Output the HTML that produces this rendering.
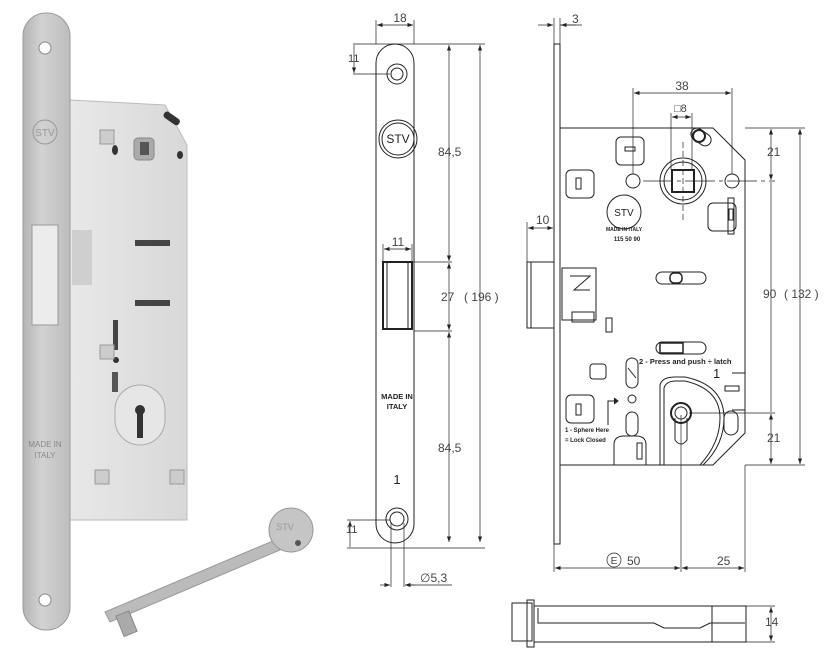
<!DOCTYPE html>
<html><head><meta charset="utf-8"><style>
html,body{margin:0;padding:0;background:#fff;}
svg{display:block;font-family:"Liberation Sans",sans-serif;}
</style></head><body>
<svg width="838" height="663" viewBox="0 0 838 663" xmlns="http://www.w3.org/2000/svg">
<defs>
<linearGradient id="fp" x1="0" x2="1"><stop offset="0" stop-color="#b4b4b4"/><stop offset="0.4" stop-color="#d2d2d2"/><stop offset="1" stop-color="#bdbdbd"/></linearGradient>
<linearGradient id="bd" x1="0" x2="1"><stop offset="0" stop-color="#e8e8e8"/><stop offset="1" stop-color="#d8d8d8"/></linearGradient>
<marker id="a" markerWidth="8" markerHeight="6" refX="8" refY="3" orient="auto-start-reverse"><path d="M0,0 L8,3 L0,6 z" fill="#222"/></marker>
</defs>
<!-- PHOTO -->
<path d="M70,100 L165,105 L187,145 L187,520 L70,520 z" fill="url(#bd)" stroke="#bbb"/>
<rect x="23" y="13" width="47" height="617" rx="23" fill="url(#fp)" stroke="#9a9a9a"/>
<circle cx="45" cy="48" r="6" fill="#fff" stroke="#888"/>
<circle cx="45" cy="600" r="6" fill="#fff" stroke="#888"/>
<circle cx="45" cy="132" r="12" fill="none" stroke="#999"/>
<text x="45" y="136" font-size="10" fill="#999" text-anchor="middle">STV</text>
<rect x="32" y="225" width="26" height="100" fill="#ececec" stroke="#999"/>
<rect x="72" y="230" width="20" height="55" fill="#cfcfcf"/>
<rect x="134" y="138" width="20" height="22" rx="4" fill="#aaa" stroke="#888"/>
<rect x="140" y="142" width="9" height="13" fill="#555"/>
<ellipse cx="115" cy="150" rx="3" ry="5" fill="#333"/><ellipse cx="180" cy="155" rx="3" ry="4" fill="#333"/>
<rect x="163" y="115" width="18" height="7" rx="3" fill="#333" transform="rotate(35 172 118)"/>
<rect x="135" y="240" width="35" height="6" fill="#444"/><rect x="135" y="300" width="35" height="6" fill="#444"/>
<rect x="115" y="385" width="50" height="60" rx="25" fill="#e6e6e6" stroke="#aaa"/>
<circle cx="140" cy="410" r="5" fill="#333"/><rect x="137" y="410" width="6" height="28" fill="#333"/>
<rect x="113" y="320" width="5" height="30" fill="#444"/><circle cx="116" cy="360" r="3" fill="#333"/><rect x="112" y="372" width="6" height="20" fill="#555"/>
<rect x="100" y="130" width="14" height="14" fill="#ccc" stroke="#999"/><rect x="100" y="345" width="14" height="14" fill="#ccc" stroke="#999"/><rect x="95" y="470" width="14" height="14" fill="#ccc" stroke="#999"/><rect x="170" y="470" width="14" height="14" fill="#ccc" stroke="#999"/>
<text x="45" y="447" font-size="8" fill="#888" text-anchor="middle">MADE IN</text><text x="45" y="458" font-size="8" fill="#888" text-anchor="middle">ITALY</text>
<path d="M105,612 L275,540 L280,550 L110,622 z" fill="#bbb" stroke="#999"/>
<rect x="118" y="613" width="14" height="22" fill="#aaa" stroke="#888" transform="rotate(-22 125 620)"/>
<circle cx="291" cy="530" r="22" fill="#c5c5c5" stroke="#999"/>
<circle cx="298" cy="543" r="3" fill="#555"/>
<text x="285" y="530" font-size="9" fill="#999" text-anchor="middle">STV</text>

<!-- FRONT FACEPLATE DRAWING -->
<g stroke="#222" fill="none" stroke-width="1">
<rect x="376" y="44" width="38" height="499" rx="19"/>
<circle cx="397" cy="74" r="10"/><circle cx="397" cy="74" r="6"/>
<circle cx="397" cy="519" r="11"/><circle cx="397" cy="519" r="7"/>
<circle cx="398" cy="139" r="19"/><circle cx="398" cy="139" r="16"/>
<rect x="383" y="262" width="29" height="67" stroke-width="2"/><line x1="387" y1="262" x2="387" y2="329"/><line x1="408" y1="262" x2="408" y2="329"/>
<g stroke-width="0.7">
<line x1="376" y1="20" x2="376" y2="44"/><line x1="414" y1="20" x2="414" y2="44"/>
<line x1="377" y1="25" x2="413" y2="25" marker-start="url(#a)" marker-end="url(#a)"/>
<line x1="353" y1="44" x2="485" y2="44"/><line x1="353" y1="74" x2="390" y2="74"/>
<line x1="354" y1="45" x2="354" y2="73" marker-end="url(#a)"/>
<line x1="383" y1="244" x2="383" y2="262"/><line x1="412" y1="244" x2="412" y2="262"/>
<line x1="384" y1="249" x2="411" y2="249" marker-start="url(#a)" marker-end="url(#a)"/>
<line x1="412" y1="262" x2="452" y2="262"/><line x1="414" y1="331" x2="452" y2="331"/>
<line x1="449" y1="45" x2="449" y2="261" marker-start="url(#a)" marker-end="url(#a)"/>
<line x1="449" y1="263" x2="449" y2="330" marker-start="url(#a)" marker-end="url(#a)"/>
<line x1="449" y1="332" x2="449" y2="542" marker-start="url(#a)" marker-end="url(#a)"/>
<line x1="480" y1="45" x2="480" y2="542" marker-start="url(#a)" marker-end="url(#a)"/>
<line x1="347" y1="548" x2="485" y2="548"/><line x1="347" y1="520" x2="390" y2="520"/>
<line x1="350" y1="521" x2="350" y2="547" marker-start="url(#a)"/>
<line x1="391" y1="523" x2="391" y2="587"/><line x1="404" y1="523" x2="404" y2="587"/>
<line x1="380" y1="585" x2="390" y2="585" marker-end="url(#a)"/><line x1="415" y1="585" x2="405" y2="585" marker-end="url(#a)"/><line x1="405" y1="585" x2="452" y2="585"/>
</g>
</g>
<g fill="#444" font-size="12">
<text x="400" y="22" text-anchor="middle">18</text>
<text x="348" y="62" font-size="11">11</text><text x="346" y="533" font-size="11">11</text>
<text x="398" y="246" text-anchor="middle">11</text>
<text x="438" y="156">84,5</text><text x="438" y="452">84,5</text>
<text x="441" y="301">27</text><text x="464" y="301">( 196 )</text>
<text x="420" y="582">∅5,3</text>
<text x="398" y="143" text-anchor="middle" font-size="12" fill="#222">STV</text>
<text x="397" y="399" text-anchor="middle" font-size="7.5" font-weight="bold" fill="#222">MADE IN</text>
<text x="397" y="409" text-anchor="middle" font-size="7.5" font-weight="bold" fill="#222">ITALY</text>
<text x="397" y="484" text-anchor="middle" font-size="13" fill="#222">1</text>
</g>

<!-- SIDE DRAWING -->
<g stroke="#222" fill="none" stroke-width="1">
<rect x="554" y="44" width="6" height="500"/>
<path d="M560,128 L713,128 L745,160 L745,433 L713,465 L560,465"/>
<rect x="527" y="262" width="27" height="66"/><line x1="531" y1="262" x2="531" y2="328"/>
<rect x="616" y="137" width="28" height="28" rx="5"/><rect x="625" y="147" width="10" height="4"/>
<rect x="566" y="170" width="28" height="28" rx="5"/><rect x="576" y="178" width="5" height="11"/>
<rect x="708" y="203" width="28" height="28" rx="5"/><rect x="728" y="198" width="6" height="36"/><rect x="729" y="209" width="4" height="11"/>
<circle cx="683" cy="181" r="23"/><circle cx="683" cy="181" r="19"/><rect x="672" y="170" width="22" height="22" stroke-width="2"/>
<circle cx="633" cy="181" r="7"/><circle cx="732" cy="181" r="7"/>
<rect x="690" y="131" width="22" height="12" rx="6" transform="rotate(35 701 137)"/>
<circle cx="699" cy="136" r="6" stroke-width="2"/>
<circle cx="624" cy="212" r="17"/>
<rect x="656" y="272" width="50" height="12" rx="6"/><rect x="670" y="273" width="12" height="10" rx="4" stroke-width="1.5"/>
<rect x="656" y="342" width="50" height="12" rx="6"/><rect x="660" y="343" width="23" height="10" stroke-width="1.5"/>
<rect x="562" y="268" width="34" height="52"/><path d="M570,276 L590,276 L574,290 L590,290"/>
<rect x="572" y="312" width="22" height="10"/><rect x="606" y="318" width="6" height="14"/>
<rect x="590" y="364" width="16" height="15" rx="3"/>
<rect x="626" y="358" width="12" height="30" rx="6"/><line x1="628" y1="368" x2="636" y2="378"/>
<circle cx="632" cy="399" r="4"/><rect x="626" y="412" width="12" height="24" rx="6"/>
<rect x="566" y="395" width="28" height="28" rx="5"/><rect x="576" y="404" width="5" height="11"/>
<path d="M608,425 L608,401 L614,401"/><path d="M614,398 L618,401 L614,404" fill="#222"/>
<path d="M614,465 L614,445 Q614,436 624,436 L636,436 Q646,436 646,445 L646,465"/><rect x="637" y="443" width="5" height="16"/>
<path d="M660,465 L660,385 Q662,377 675,377 L685,377 Q724,385 724,418 Q724,445 703,465"/>
<path d="M664,465 L664,388 Q666,381 676,381 L685,381 Q720,389 720,418 Q720,443 700,465"/>
<path d="M732,373 L745,373 L745,410 L732,410"/><rect x="725" y="386" width="14" height="5"/><rect x="724" y="411" width="14" height="24" rx="7"/>
<circle cx="681" cy="413" r="10" stroke-width="2"/><circle cx="681" cy="413" r="6"/>
<path d="M675,418 L675,440 Q681,448 687,440 L687,418"/>
<rect x="512" y="603" width="20" height="38"/><rect x="527" y="600" width="7" height="47"/>
<rect x="534" y="606" width="212" height="36"/><line x1="712" y1="606" x2="712" y2="642"/>
<path d="M538,608 L538,623 L654,623 L664,628 L700,628 L710,623 L745,623"/>
</g>
<g stroke="#222" fill="none" stroke-width="0.7">
<line x1="554" y1="18" x2="554" y2="44"/><line x1="560" y1="18" x2="560" y2="44"/>
<line x1="538" y1="25" x2="553" y2="25" marker-end="url(#a)"/><line x1="576" y1="25" x2="561" y2="25" marker-end="url(#a)"/><line x1="560" y1="25" x2="582" y2="25"/>
<line x1="527" y1="222" x2="527" y2="262"/>
<line x1="528" y1="228" x2="553" y2="228" marker-start="url(#a)" marker-end="url(#a)"/>
<line x1="633" y1="88" x2="633" y2="174"/><line x1="732" y1="88" x2="732" y2="174"/>
<line x1="634" y1="93" x2="731" y2="93" marker-start="url(#a)" marker-end="url(#a)"/>
<line x1="671" y1="113" x2="671" y2="170"/><line x1="692" y1="113" x2="692" y2="170"/>
<line x1="672" y1="117" x2="691" y2="117" marker-start="url(#a)" marker-end="url(#a)"/>
<line x1="683" y1="142" x2="683" y2="220" stroke-dasharray="6,3"/>
<line x1="643" y1="181" x2="775" y2="181" stroke-dasharray="30,4,4,4"/>
<line x1="745" y1="128" x2="805" y2="128"/><line x1="745" y1="465" x2="805" y2="465"/>
<line x1="771" y1="129" x2="771" y2="180" marker-start="url(#a)" marker-end="url(#a)"/>
<line x1="771" y1="182" x2="771" y2="412" />
<line x1="771" y1="414" x2="771" y2="464" marker-start="url(#a)" marker-end="url(#a)"/>
<line x1="800" y1="129" x2="800" y2="464" marker-start="url(#a)" marker-end="url(#a)"/>
<line x1="689" y1="413" x2="775" y2="413"/>
<line x1="681" y1="415" x2="681" y2="572"/>
<line x1="554" y1="544" x2="554" y2="572"/><line x1="745" y1="465" x2="745" y2="572"/>
<line x1="555" y1="568" x2="680" y2="568" marker-start="url(#a)" marker-end="url(#a)"/>
<line x1="682" y1="568" x2="744" y2="568" marker-start="url(#a)" marker-end="url(#a)"/>
<line x1="745" y1="606" x2="775" y2="606"/><line x1="745" y1="642" x2="775" y2="642"/>
<line x1="771" y1="607" x2="771" y2="641" marker-start="url(#a)" marker-end="url(#a)"/>
<circle cx="614" cy="560" r="7"/>
</g>
<g fill="#444" font-size="12">
<text x="572" y="23">3</text>
<text x="536" y="224">10</text>
<text x="682" y="90" text-anchor="middle">38</text>
<text x="674" y="112" font-size="11">□8</text>
<text x="767" y="156">21</text><text x="767" y="442">21</text>
<text x="763" y="298">90</text><text x="784" y="298">( 132 )</text>
<text x="614" y="564" text-anchor="middle" font-size="10">E</text>
<text x="627" y="565">50</text><text x="717" y="565">25</text>
<text x="765" y="626">14</text>
<text x="624" y="216" text-anchor="middle" font-size="10" fill="#222">STV</text>
<text x="624" y="231" text-anchor="middle" font-size="5" font-weight="bold" fill="#222">MADE IN ITALY</text>
<text x="627" y="241" text-anchor="middle" font-size="6" font-weight="bold" fill="#222">115 50 90</text>
<text x="639" y="364" font-size="7.5" font-weight="bold" fill="#222">2 - Press and push ÷ latch</text>
<text x="713" y="378" font-size="13" fill="#222">1</text>
<text x="565" y="432" font-size="6" font-weight="bold" fill="#222">1 - Sphere Here</text>
<text x="565" y="442" font-size="6" font-weight="bold" fill="#222">= Lock Closed</text>
</g>
</svg>
</body></html>
